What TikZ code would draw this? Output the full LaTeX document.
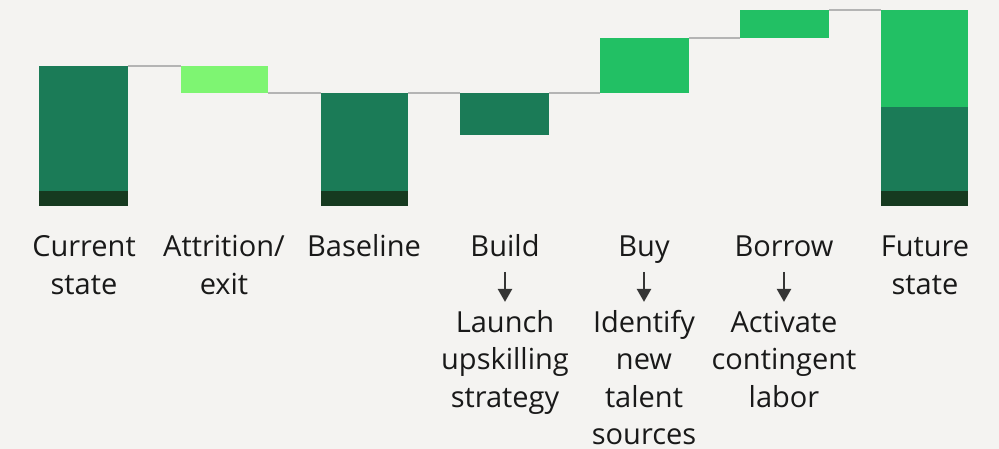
\documentclass[tikz,border=0pt]{standalone}
\usepackage{fontspec}
\setmainfont{Open Sans}
\usetikzlibrary{arrows.meta}
\definecolor{bgc}{HTML}{F4F3F1}
\definecolor{darkg}{HTML}{1B7B57}
\definecolor{lightg}{HTML}{7EF572}
\definecolor{brightg}{HTML}{22C064}
\definecolor{baseg}{HTML}{163A20}
\definecolor{linegray}{HTML}{B4B4B4}
\definecolor{arrgray}{HTML}{353535}
\newcommand{\lbl}[1]{\begin{tabular}[t]{@{}c@{}}#1\end{tabular}}
\begin{document}
\begin{tikzpicture}[x=1pt,y=-1pt,
  bar/.style={inner sep=0pt,outer sep=0pt,anchor=north west,draw=none},
  conn/.style={draw=linegray,line width=2pt},
  txt/.style={inner sep=0pt,outer sep=0pt,anchor=base,text=black!90,font=\fontsize{29}{37.3}\selectfont},
  arr/.style={draw=arrgray,line width=2.5pt,-{Triangle[length=13pt,width=14pt]},shorten <=3.75pt,shorten >=4.5pt}]
\fill[bgc] (0,0) rectangle (999,449);
\useasboundingbox (0,0) rectangle (999,449);
% bars
\node[bar,fill=darkg,minimum width=89pt,minimum height=125pt] (cur) at (39,66) {};
\node[bar,fill=baseg,minimum width=89pt,minimum height=15pt] (curbase) at (39,191) {};
\node[bar,fill=lightg,minimum width=87pt,minimum height=27pt] (att) at (181,66) {};
\node[bar,fill=darkg,minimum width=87pt,minimum height=98pt] (bas) at (321,93) {};
\node[bar,fill=baseg,minimum width=87pt,minimum height=15pt] (basbase) at (321,191) {};
\node[bar,fill=darkg,minimum width=89pt,minimum height=42pt] (bld) at (460,93) {};
\node[bar,fill=brightg,minimum width=89pt,minimum height=55pt] (buy) at (600,38) {};
\node[bar,fill=brightg,minimum width=89pt,minimum height=28pt] (bor) at (740,10) {};
\node[bar,fill=brightg,minimum width=87pt,minimum height=97pt] (fut) at (881,10) {};
\node[bar,fill=darkg,minimum width=87pt,minimum height=84pt] (futmid) at (881,107) {};
\node[bar,fill=baseg,minimum width=87pt,minimum height=15pt] (futbase) at (881,191) {};
% connectors
\draw[conn] (cur.north east) -- (att.north west);
\draw[conn] (att.south east) -- (bas.north west);
\draw[conn] (bas.north east) -- (bld.north west);
\draw[conn] (bld.north east) -- (buy.south west);
\draw[conn] (buy.north east) -- (bor.south west);
\draw[conn] (bor.north east) -- (fut.north west);
% labels
\node[txt] (tcur) at (84,257) {\lbl{Current\\state}};
\node[txt] (tatt) at (224,257) {\lbl{Attrition/\\exit}};
\node[txt] (tbas) at (364,257) {\lbl{Baseline}};
\node[txt] (tbld) at (505,257) {\lbl{Build}};
\node[txt] (tbuy) at (644,257) {\lbl{Buy}};
\node[txt] (tbor) at (784,257) {\lbl{Borrow}};
\node[txt] (tfut) at (925,257) {\lbl{Future\\state}};
\node[txt] (dbld) at (505,332.5) {\lbl{Launch\\upskilling\\strategy}};
\node[txt] (dbuy) at (644,332.5) {\lbl{Identify\\new\\talent\\sources}};
\node[txt] (dbor) at (784,332.5) {\lbl{Activate\\contingent\\labor}};
\draw[arr] (tbld.south) -- (dbld.north);
\draw[arr] (tbuy.south) -- (dbuy.north);
\draw[arr] (tbor.south) -- (dbor.north);
\end{tikzpicture}
\end{document}
